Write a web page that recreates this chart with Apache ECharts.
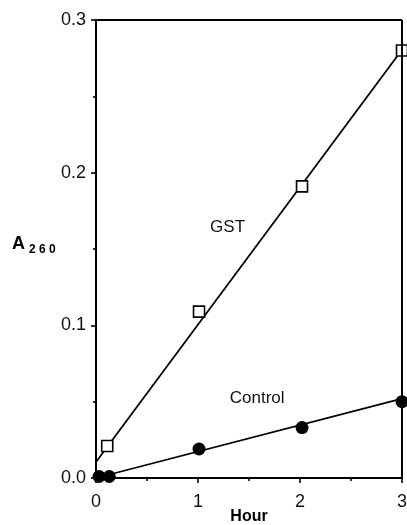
<!DOCTYPE html>
<html>
<head>
<meta charset="utf-8">
<script src="https://cdn.jsdelivr.net/npm/echarts@6/dist/echarts.min.js"></script>
<style>html,body{margin:0;padding:0;background:#fff;}#c{width:407px;height:525px;}</style>
</head>
<body>
<div id="c"></div>
<script>
var xTicks = [0, 1, 2, 3];
var yTicks = [0.0, 0.1, 0.2, 0.3];
var gstPoints = [[0.11, 0.021], [1.01, 0.109], [2.02, 0.191], [3.0, 0.280]];
var gstFit = [[0, 0.0105], [3, 0.2805]];
var controlPoints = [[0.03, 0.001], [0.13, 0.001], [1.01, 0.019], [2.02, 0.033], [3.0, 0.050]];
var controlFit = [[0, 0.0], [3, 0.052]];
var seriesLabels = [{name: 'GST', value: [1.29, 0.164]}, {name: 'Control', value: [1.58, 0.052]}];

var chart = echarts.init(document.getElementById('c'));
var font = 'Liberation Sans, Arial, Helvetica, sans-serif';
chart.setOption({
  animation: false,
  backgroundColor: '#fff',
  grid: {left: 96, right: 5, top: 20, bottom: 47, show: false, containLabel: false, outerBoundsMode: 'none'},
  xAxis: {
    type: 'value', min: 0, max: 3, interval: 1,
    axisLine: {show: true, onZero: false, lineStyle: {color: '#000', width: 2}},
    axisTick: {show: true, inside: false, length: 5, lineStyle: {color: '#000', width: 1.6}},
    minorTick: {show: true, splitNumber: 2, length: 3, lineStyle: {color: '#000', width: 1.6}},
    splitLine: {show: false},
    axisLabel: {color: '#111', fontSize: 18, fontFamily: font, margin: 15,
      formatter: function (v) { return xTicks.indexOf(v) >= 0 ? String(v) : ''; }},
    name: 'Hour', nameLocation: 'middle', nameGap: 31, nameMoveOverlap: false,
    nameTextStyle: {color: '#000', fontSize: 16, fontWeight: 'bold', fontFamily: font}
  },
  yAxis: {
    type: 'value', min: 0, max: 0.3, interval: 0.1,
    axisLine: {show: true, onZero: false, lineStyle: {color: '#000', width: 2}},
    axisTick: {show: true, inside: false, length: 5, lineStyle: {color: '#000', width: 1.6}},
    minorTick: {show: true, splitNumber: 2, length: 3, lineStyle: {color: '#000', width: 1.6}},
    splitLine: {show: false},
    axisLabel: {color: '#111', fontSize: 18, fontFamily: font, margin: 10,
      formatter: function (v) {
        for (var i = 0; i < yTicks.length; i++) { if (Math.abs(yTicks[i] - v) < 1e-9) return yTicks[i].toFixed(1); }
        return '';
      }}
  },
  graphic: [
    {type: 'line', shape: {x1: 96, y1: 20, x2: 402, y2: 20}, style: {stroke: '#000', lineWidth: 2}, z: 10},
    {type: 'line', shape: {x1: 402, y1: 20, x2: 402, y2: 478}, style: {stroke: '#000', lineWidth: 2}, z: 10},
    {type: 'text', left: 12, top: 235, style: {
      text: '{a|A}{s|2 6 0}', rich: {
        a: {fontSize: 18, fontWeight: 'bold', fontFamily: font, fill: '#000'},
        s: {fontSize: 12, fontWeight: 'bold', fontFamily: font, fill: '#000', padding: [12, 0, 0, 4]}
      }}}
  ],
  series: [
    {type: 'line', data: gstFit, showSymbol: false, symbol: 'none', lineStyle: {color: '#000', width: 1.8}, z: 2},
    {type: 'line', data: controlFit, showSymbol: false, symbol: 'none', lineStyle: {color: '#000', width: 1.8}, z: 2},
    {type: 'scatter', data: gstPoints, symbol: 'rect', symbolSize: 11,
      itemStyle: {color: '#fff', borderColor: '#000', borderWidth: 1.6, opacity: 1}, z: 3},
    {type: 'scatter', data: controlPoints, symbol: 'circle', symbolSize: 13,
      itemStyle: {color: '#000', opacity: 1}, z: 3},
    {type: 'scatter', data: seriesLabels, symbolSize: 0, z: 4, itemStyle: {opacity: 1},
      label: {show: true, position: 'inside', formatter: '{b}', color: '#111', fontSize: 17, fontFamily: font, opacity: 1}}
  ]
});
</script>
</body>
</html>
